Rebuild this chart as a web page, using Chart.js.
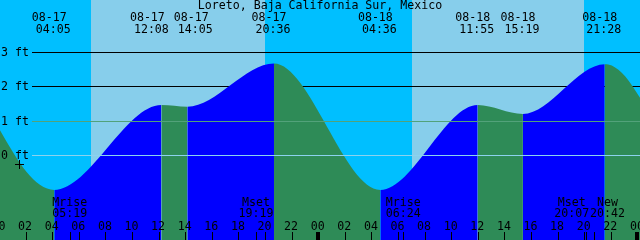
<!DOCTYPE html>
<html>
<head>
<meta charset="utf-8">
<script src="https://cdn.jsdelivr.net/npm/chart.js@4/dist/chart.umd.min.js"></script>
<style>
  html, body { margin: 0; padding: 0; background: #00bfff; }
  #chart-cont { display: block; }
</style>
</head>
<body>
<canvas id="chart-cont" width="640" height="240"></canvas>
<script>
var stationName = 'Loreto, Baja California Sur, Mexico';

// tide highs / lows (hours counted from 08-17 00:00)
var eventDates = ['08-17', '08-17', '08-17', '08-17', '08-18', '08-18', '08-18', '08-18'];
var eventTimes = ['04:05', '12:08', '14:05', '20:36', '04:36', '11:55', '15:19', '21:28'];
var extremeFeet = [-1.0, 1.46, 1.41, 2.66, -1.0, 1.46, 1.2, 2.64];
var eventNudge = [0, -9, 9, 0, 0, 0, 0, 0];

// curve read at the two edges of the window
var edgeHours = [0, 1, 2, 3, 46, 47, 48.12];
var edgeFeet = [0.73, 0.08, -0.48, -0.85, 2.6, 2.29, 1.67];

// sun and moon
var sunRise = [6.84, 30.98];
var sunSet = [19.92, 43.9];
var moonNames = ['Mrise', 'Mset', 'Mrise', 'Mset', 'New'];
var moonTimes = ['05:19', '19:19', '06:24', '20:07', '20:42'];
var moonDays = [0, 0, 1, 1, 1];
var moonNudge = [0, 0, 0, -14, 14];

var depthTicks = [3, 2, 1, 0];
var hourTicks = [];
for (var h = 0; h <= 48; h += 2) hourTicks.push(h);

function toHours(t, day) {
    var p = t.split(':');
    return day * 24 + parseInt(p[0], 10) + parseInt(p[1], 10) / 60;
}

var eventHours = eventTimes.map(function (t, i) {
    return toHours(t, eventDates[i] == '08-18' ? 1 : 0);
});

var tidePoints = [];
edgeHours.forEach(function (h, i) { tidePoints.push({ x: h, y: edgeFeet[i] }); });
eventHours.forEach(function (h, i) { tidePoints.push({ x: h, y: extremeFeet[i] }); });
tidePoints.sort(function (a, b) { return a.x - b.x; });

var FONT = '11.6px "DejaVu Sans Mono", monospace';

var tidePainter = {
    id: 'tidePainter',
    beforeDatasetsDraw: function (chart) {
        var ctx = chart.ctx, xs = chart.scales.x, ys = chart.scales.y;
        var area = chart.chartArea;
        ctx.save();
        // night
        ctx.fillStyle = '#00bfff';
        ctx.fillRect(area.left, area.top, area.width, area.height);
        // day
        ctx.fillStyle = '#87ceeb';
        for (var i = 0; i < sunRise.length; i++) {
            var a = xs.getPixelForValue(sunRise[i]), b = xs.getPixelForValue(sunSet[i]);
            ctx.fillRect(Math.round(a), area.top, Math.round(b) - Math.round(a), area.height);
        }
        // 3 ft and 2 ft lines sit behind the water
        ctx.strokeStyle = '#000';
        ctx.lineWidth = 1;
        [3, 2].forEach(function (d) {
            var y = Math.round(ys.getPixelForValue(d)) + 0.5;
            ctx.beginPath();
            ctx.moveTo(32, y);
            ctx.lineTo(area.right, y);
            ctx.stroke();
        });
        ctx.restore();
    },
    afterDatasetsDraw: function (chart) {
        var ctx = chart.ctx, xs = chart.scales.x, ys = chart.scales.y;
        var area = chart.chartArea;
        ctx.save();
        ctx.lineWidth = 1;
        var overColors = { 1: '#52a27a', 0: '#8cd2ee' };
        [1, 0].forEach(function (d) {
            var y = Math.round(ys.getPixelForValue(d)) + 0.5;
            ctx.strokeStyle = overColors[d];
            ctx.beginPath();
            ctx.moveTo(32, y);
            ctx.lineTo(area.right, y);
            ctx.stroke();
        });

        ctx.fillStyle = '#000';
        ctx.strokeStyle = '#000';
        ctx.font = FONT;
        ctx.textBaseline = 'alphabetic';

        // depth labels
        ctx.textAlign = 'left';
        depthTicks.forEach(function (d) {
            var y = Math.round(ys.getPixelForValue(d));
            ctx.fillText(d + ' ft', 1, y + 4);
        });

        // title
        ctx.textAlign = 'center';
        ctx.fillText(stationName, 320, 9);

        // high / low labels
        eventHours.forEach(function (h, i) {
            var x = xs.getPixelForValue(h) - 1 + eventNudge[i];
            ctx.fillText(eventDates[i], x - 4, 21);
            ctx.fillText(eventTimes[i], x, 33);
        });

        // moon labels
        moonTimes.forEach(function (t, i) {
            var x = xs.getPixelForValue(toHours(t, moonDays[i]));
            var lx = x - 1 + moonNudge[i];
            ctx.fillText(moonNames[i], lx, 206);
            ctx.fillText(t, lx, 217);
            var tx = Math.round(x) - 1 + 0.5;
            ctx.beginPath();
            ctx.moveTo(tx, 232);
            ctx.lineTo(tx, 240);
            ctx.stroke();
        });

        // hour axis
        hourTicks.forEach(function (h) {
            var x = xs.getPixelForValue(h);
            var lbl = String(h % 24).padStart(2, '0');
            ctx.fillText(lbl, x - 1.5, 230);
            if (h == 0) return;
            if (h % 24 == 0) {
                ctx.fillRect(Math.round(x) - 3, 232, 4, 8);
            } else {
                var tx = Math.round(x) - 1 + 0.5;
                ctx.beginPath();
                ctx.moveTo(tx, 232);
                ctx.lineTo(tx, 240);
                ctx.stroke();
            }
        });

        // plus mark
        ctx.beginPath();
        ctx.moveTo(15, 164.5);
        ctx.lineTo(24, 164.5);
        ctx.moveTo(19.5, 160);
        ctx.lineTo(19.5, 169);
        ctx.stroke();
        ctx.restore();
    }
};

var canvasElement = document.getElementById('chart-cont').getContext('2d');

var config = {
    type: 'line',
    data: {
        datasets: [{
            data: tidePoints,
            borderWidth: 0,
            pointRadius: 0,
            cubicInterpolationMode: 'monotone',
            fill: 'start',
            backgroundColor: '#2e8b57',
            segment: {
                // rising water blue, falling water green
                backgroundColor: function (c) {
                    return c.p1.parsed.y > c.p0.parsed.y ? '#0000ff' : '#2e8b57';
                }
            }
        }]
    },
    plugins: [tidePainter],
    options: {
        responsive: false,
        animation: false,
        devicePixelRatio: 1,
        events: [],
        layout: { padding: 0 },
        plugins: {
            legend: { display: false },
            tooltip: { enabled: false }
        },
        scales: {
            x: { type: 'linear', min: 0, max: 48.12, display: false },
            y: { type: 'linear', min: -2.45, max: 4.5, display: false }
        }
    }
};

var chart = new Chart(canvasElement, config);
</script>
</body>
</html>
